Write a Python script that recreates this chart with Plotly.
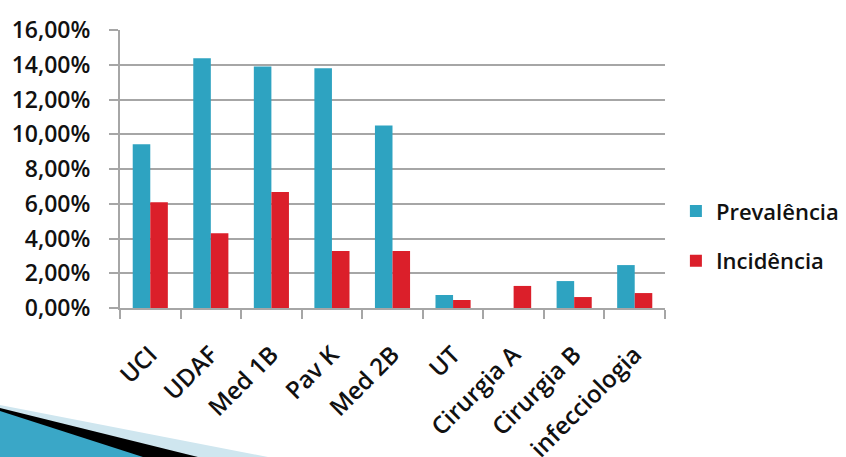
import plotly.graph_objects as go

categories = ["UCI", "UDAF", "Med 1B", "Pav K", "Med 2B", "UT", "Cirurgia A", "Cirurgia B", "infecciologia"]
prevalencia = [0.0942, 0.1437, 0.1390, 0.1380, 0.1050, 0.0075, 0.0, 0.0155, 0.0247]
incidencia = [0.0608, 0.0430, 0.0668, 0.0328, 0.0328, 0.0046, 0.0127, 0.0063, 0.0086]
y_ticks = [0, 0.02, 0.04, 0.06, 0.08, 0.10, 0.12, 0.14, 0.16]

BLUE = "#2ea3c1"
RED = "#db1f2a"
GRID = "#a6a6a6"
FONT = "Open Sans"

W, H = 846, 457
L, R, T, B = 120, 181, 30, 149
PW, PH = W - L - R, H - T - B


def px(x, y):
    return (x - L) / PW, (H - B - y) / PH


def path(points):
    parts = []
    for i, (x, y) in enumerate(points):
        ux, uy = px(x, y)
        parts.append(("M" if i == 0 else "L") + f"{ux:.4f},{uy:.4f}")
    return " ".join(parts) + " Z"


fig = go.Figure()
fig.add_trace(go.Bar(x=categories, y=prevalencia, name="Prevalência", marker_color=BLUE,
                     marker_line_width=0, legendgroup="a"))
fig.add_trace(go.Bar(x=categories, y=incidencia, name="Incidência", marker_color=RED,
                     marker_line_width=0, legendgroup="b"))

shapes = [
    dict(type="path", path=path([(0, 405), (268, 457), (0, 457)]), xref="paper", yref="paper",
         fillcolor="#cfe6ef", line=dict(width=0), layer="above"),
    dict(type="path", path=path([(0, 408), (198, 457), (0, 457)]), xref="paper", yref="paper",
         fillcolor="#000000", line=dict(width=0), layer="above"),
    dict(type="path", path=path([(0, 411), (143, 457), (0, 457)]), xref="paper", yref="paper",
         fillcolor="#3aa7c7", line=dict(width=0), layer="above"),
]

fig.update_layout(
    width=W, height=H,
    margin=dict(l=L, r=R, t=T, b=B, autoexpand=False),
    paper_bgcolor="white", plot_bgcolor="white",
    separators=", ",
    barmode="group", bargap=0.42, bargroupgap=0.0,
    font=dict(family=FONT, color="#111111"),
    showlegend=True,
    legend=dict(x=1.02, y=0.258, xanchor="left", yanchor="middle",
                font=dict(family=FONT, size=22, color="#111111", weight=600),
                tracegroupgap=18, traceorder="grouped", itemwidth=30),
    shapes=shapes,
)
fig.update_xaxes(type="category", showline=True, linecolor=GRID, linewidth=2,
                 ticks="outside", tickson="boundaries", ticklen=9, tickcolor=GRID, tickwidth=2,
                 showgrid=False, tickangle=-45, ticklabelstandoff=21,
                 tickfont=dict(family=FONT, size=24, color="#111111", weight=600))
fig.update_yaxes(range=[0, 0.16], tickvals=y_ticks, tickformat=".2%", showline=True, linecolor=GRID,
                 linewidth=2, ticks="outside", ticklen=9, tickcolor=GRID, tickwidth=2,
                 showgrid=True, gridcolor=GRID, gridwidth=1.5, zeroline=False,
                 ticklabelstandoff=14,
                 tickfont=dict(family=FONT, size=23, color="#111111", weight=600))

fig.write_html("out.html")
